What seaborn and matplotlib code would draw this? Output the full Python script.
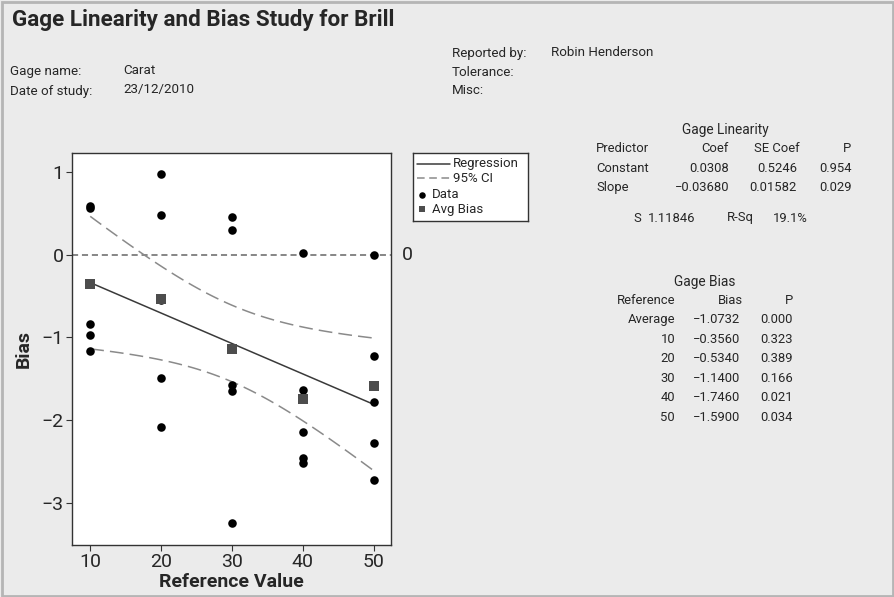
import numpy as np
import pandas as pd
import matplotlib
matplotlib.use("Agg")
import matplotlib.pyplot as plt
import seaborn as sns
from matplotlib.patches import Rectangle

# ---------------- data ----------------
reference = [10]*5 + [20]*5 + [30]*5 + [40]*5 + [50]*5
bias = [0.57, 0.59, -0.84, -0.965, -1.16,
        0.973, 0.476, -0.553, -1.494, -2.083,
        0.456, 0.295, -1.58, -1.65, -3.25,
        0.02, -1.635, -2.14, -2.46, -2.52,
        -0.008, -1.22, -1.776, -2.277, -2.72]
ref_levels = [10, 20, 30, 40, 50]
avg_bias = [-0.356, -0.534, -1.140, -1.746, -1.590]

constant = 0.0308
slope = -0.03680
s_value = 1.11846
t_crit = 2.0687  # t(0.975, 23)

lin_rows = [["Constant", "0.0308", "0.5246", "0.954"],
            ["Slope", "\u22120.03680", "0.01582", "0.029"]]
bias_rows = [["Average", "\u22121.0732", "0.000"],
             ["10", "\u22120.3560", "0.323"],
             ["20", "\u22120.5340", "0.389"],
             ["30", "\u22121.1400", "0.166"],
             ["40", "\u22121.7460", "0.021"],
             ["50", "\u22121.5900", "0.034"]]

# ---------------- derived regression + CI ----------------
xr = np.array(reference, dtype=float)
n = len(xr)
xbar = xr.mean()
sxx = ((xr - xbar) ** 2).sum()
xg = np.linspace(min(ref_levels), max(ref_levels), 100)
fit = constant + slope * xg
half = t_crit * s_value * np.sqrt(1.0 / n + (xg - xbar) ** 2 / sxx)
df_fit = pd.DataFrame({"x": xg, "fit": fit, "lo": fit - half, "hi": fit + half})
df_pts = pd.DataFrame({"Reference": reference, "Bias": bias})
df_avg = pd.DataFrame({"Reference": ref_levels, "Bias": avg_bias})

# ---------------- figure ----------------
sns.set_style("white")
plt.rcParams["font.family"] = ["Roboto", "DejaVu Sans"]
BG = "#ebebeb"
fig = plt.figure(figsize=(8.95, 5.97), dpi=100, facecolor=BG)
W, H = 895, 597

def fx(px):
    return px / W

def fy(py):
    return 1 - py / H

# border
fig.patches.append(Rectangle((0.002, 0.002), 0.996, 0.994, transform=fig.transFigure,
                             fill=False, edgecolor="#b5b5b5", linewidth=2))

ax = fig.add_axes([fx(72), fy(545), fx(391) - fx(72), fy(153) - fy(545)])
ax.set_facecolor("white")

ax.axhline(0, color="#666666", linestyle=(0, (4, 2.5)), linewidth=1.1, zorder=1)
sns.lineplot(data=df_fit, x="x", y="hi", ax=ax, color="#8a8a8a", linewidth=1.1,
             linestyle=(0, (9, 4)), zorder=2)
sns.lineplot(data=df_fit, x="x", y="lo", ax=ax, color="#8a8a8a", linewidth=1.1,
             linestyle=(0, (9, 4)), zorder=2)
sns.lineplot(data=df_fit, x="x", y="fit", ax=ax, color="#3a3a3a", linewidth=1.1, zorder=3)
sns.scatterplot(data=df_pts, x="Reference", y="Bias", ax=ax, color="black", s=38,
                marker="o", edgecolor="black", linewidth=0, zorder=4)
sns.scatterplot(data=df_avg, x="Reference", y="Bias", ax=ax, color="#4d4d4d", s=42,
                marker="s", edgecolor="#4d4d4d", linewidth=0, zorder=5)

ax.set_xlim(7.43, 52.45)
ax.set_ylim(-3.51, 1.23)
ax.set_xticks(ref_levels)
ax.set_yticks([1, 0, -1, -2, -3])
ax.set_yticklabels(["1", "0", "\u22121", "\u22122", "\u22123"])
ax.tick_params(axis="both", direction="out", length=4, width=0.8, color="#333333",
               labelsize=14, pad=2, left=True, bottom=True)
for sp in ax.spines.values():
    sp.set_color("#333333")
    sp.set_linewidth(1.0)
ax.set_xlabel("Reference Value", fontsize=14, fontweight="bold", labelpad=1)
ax.set_ylabel("Bias", fontsize=14, fontweight="bold", labelpad=6)
ax.text(1.035, 0, "0", transform=ax.get_yaxis_transform(), fontsize=14,
        va="center", ha="left")

# legend
leg_ax = fig.add_axes([fx(413), fy(221), fx(528) - fx(413), fy(153) - fy(221)])
leg_ax.set_xlim(0, 115)
leg_ax.set_ylim(68, 0)
leg_ax.set_xticks([]); leg_ax.set_yticks([])
leg_ax.set_facecolor("white")
for sp in leg_ax.spines.values():
    sp.set_color("#333333"); sp.set_linewidth(1.0)
leg_ax.plot([4, 37], [11, 11], color="#3a3a3a", linewidth=1.1)
leg_ax.plot([4, 37], [25, 25], color="#8a8a8a", linewidth=1.1, linestyle=(0, (5, 3)))
leg_ax.scatter([9], [42], s=22, color="black", marker="o", linewidths=0)
leg_ax.scatter([9], [56], s=22, color="#4d4d4d", marker="s", linewidths=0)
lfs = 9.5
leg_ax.text(40, 11, "Regression", fontsize=lfs, va="center")
leg_ax.text(40, 25, "95% CI", fontsize=lfs, va="center")
leg_ax.text(19, 42, "Data", fontsize=lfs, va="center")
leg_ax.text(19, 56, "Avg Bias", fontsize=lfs, va="center")

# title and header
fig.text(fx(12), fy(20), "Gage Linearity and Bias Study for Brill", fontsize=16.2,
         fontweight="bold", va="center", ha="left")
hfs = 9.6
fig.text(fx(10), fy(72), "Gage name:", fontsize=hfs, va="center")
fig.text(fx(123), fy(71), "Carat", fontsize=hfs, va="center")
fig.text(fx(10), fy(91), "Date of study:", fontsize=hfs, va="center")
fig.text(fx(123), fy(90), "23/12/2010", fontsize=hfs, va="center")
fig.text(fx(452), fy(53), "Reported by:", fontsize=hfs, va="center")
fig.text(fx(551), fy(52), "Robin Henderson", fontsize=hfs, va="center")
fig.text(fx(452), fy(72), "Tolerance:", fontsize=hfs, va="center")
fig.text(fx(452), fy(91), "Misc:", fontsize=hfs, va="center")

# Gage Linearity table
tfs = 9.4
fig.text(fx(725), fy(130), "Gage Linearity", fontsize=tfs + 0.4, ha="center", va="center")
fig.text(fx(596), fy(149), "Predictor", fontsize=tfs, ha="left", va="center")
fig.text(fx(729), fy(149), "Coef", fontsize=tfs, ha="right", va="center")
fig.text(fx(800), fy(149), "SE Coef", fontsize=tfs, ha="right", va="center")
fig.text(fx(851), fy(149), "P", fontsize=tfs, ha="right", va="center")
for i, row in enumerate(lin_rows):
    yy = fy(168 + i * 19)
    fig.text(fx(596), yy, row[0], fontsize=tfs, ha="left", va="center")
    fig.text(fx(729), yy, row[1], fontsize=tfs, ha="right", va="center")
    fig.text(fx(797), yy, row[2], fontsize=tfs, ha="right", va="center")
    fig.text(fx(852), yy, row[3], fontsize=tfs, ha="right", va="center")
fig.text(fx(633), fy(218), "S", fontsize=tfs, ha="left", va="center")
fig.text(fx(648), fy(218), f"{s_value:.5f}", fontsize=tfs, ha="left", va="center")
fig.text(fx(727), fy(218), "R-Sq", fontsize=tfs, ha="left", va="center")
fig.text(fx(773), fy(218), "19.1%", fontsize=tfs, ha="left", va="center")

# Gage Bias table
fig.text(fx(705), fy(282), "Gage Bias", fontsize=tfs + 0.4, ha="center", va="center")
fig.text(fx(675), fy(300), "Reference", fontsize=tfs, ha="right", va="center")
fig.text(fx(743), fy(300), "Bias", fontsize=tfs, ha="right", va="center")
fig.text(fx(793), fy(300), "P", fontsize=tfs, ha="right", va="center")
for i, row in enumerate(bias_rows):
    yy = fy(319.5 + i * 19.6)
    fig.text(fx(675), yy, row[0], fontsize=tfs, ha="right", va="center")
    fig.text(fx(740), yy, row[1], fontsize=tfs, ha="right", va="center")
    fig.text(fx(793), yy, row[2], fontsize=tfs, ha="right", va="center")

fig.savefig("out.png", dpi=100, facecolor=BG)
